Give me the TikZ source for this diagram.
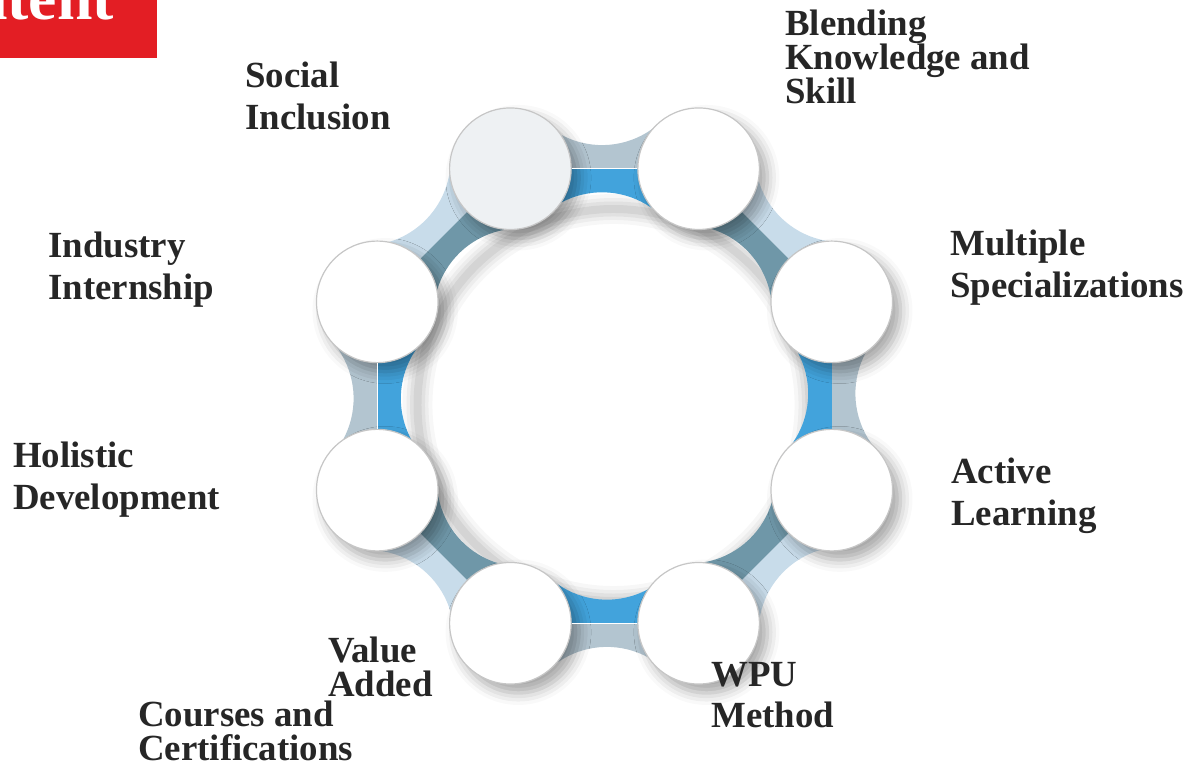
\documentclass[tikz,border=0pt]{standalone}
\usepackage{fontspec}
\setmainfont{Liberation Serif}
\usepackage{xcolor}
\usepackage{tikz}
\usetikzlibrary{shadows.blur}

\definecolor{wpured}{HTML}{E31E24}
\definecolor{bandgray}{HTML}{B3C5D0}
\definecolor{bandblue}{HTML}{42A3DC}
\definecolor{bandlight}{HTML}{C8DCEA}
\definecolor{bandsteel}{HTML}{6F97A8}
\definecolor{hubgray}{HTML}{EEF1F3}

\tikzset{
  hub/.style={circle, draw=gray!45, line width=1.2, fill=white, minimum size=122, inner sep=0,
    blur shadow={shadow xshift=8, shadow yshift=-9, shadow blur radius=12, shadow opacity=35}},
  lbl/.style={anchor=north west, align=left, inner sep=0, text=black!85,
    font=\fontsize{37}{41.5}\selectfont\bfseries},
  lbltight/.style={lbl, font=\fontsize{37}{34}\selectfont\bfseries},
  sepline/.style={white, line width=1.3},
}

\begin{document}
\begin{tikzpicture}[x=1bp, y=1bp]
\useasboundingbox (0,0) rectangle (1188,769);
\clip (0,0) rectangle (1188,769);

% title box
\fill[wpured] (0,711) rectangle (157,769);
\node[anchor=base east, inner sep=0, text=white, font=\fontsize{64}{64}\selectfont\bfseries] (title) at (114,749) {Content};

% ring
\begin{scope}[shift={(604.5,373)}]
% soft shadow inside the hole
\foreach \w/\o in {30/0.03, 22/0.04, 15/0.05, 8/0.06}
  \draw[black, opacity=\o, line width=\w] (9,-9) circle (196);

% right
\begin{scope}[rotate=0, shift={(227.3,0)}]
  \fill[bandgray] (0,-95) -- (50,-95) -- (50,-59.6) arc[start angle=-133.87, end angle=-226.13, radius=86] -- (50,95) -- (0,95) -- cycle;
  \fill[bandblue] (0,-95) -- (-50,-95) -- (-50,-59.6) arc[start angle=-46.13, end angle=46.13, radius=86] -- (-50,95) -- (0,95) -- cycle;
\end{scope}
% upper right
\begin{scope}[rotate=45, shift={(227.3,0)}]
  \fill[bandlight] (0,-95) -- (50,-95) -- (50,-59.6) arc[start angle=-133.87, end angle=-226.13, radius=86] -- (50,95) -- (0,95) -- cycle;
  \fill[bandsteel] (0,-95) -- (-50,-95) -- (-50,-59.6) arc[start angle=-46.13, end angle=46.13, radius=86] -- (-50,95) -- (0,95) -- cycle;
\end{scope}
% top
\begin{scope}[rotate=90, shift={(227.3,0)}]
  \fill[bandgray] (0,-95) -- (50,-95) -- (50,-59.6) arc[start angle=-133.87, end angle=-226.13, radius=86] -- (50,95) -- (0,95) -- cycle;
  \fill[bandblue] (0,-95) -- (-50,-95) -- (-50,-59.6) arc[start angle=-46.13, end angle=46.13, radius=86] -- (-50,95) -- (0,95) -- cycle;
\end{scope}
% upper left
\begin{scope}[rotate=135, shift={(227.3,0)}]
  \fill[bandlight] (0,-95) -- (50,-95) -- (50,-59.6) arc[start angle=-133.87, end angle=-226.13, radius=86] -- (50,95) -- (0,95) -- cycle;
  \fill[bandsteel] (0,-95) -- (-50,-95) -- (-50,-59.6) arc[start angle=-46.13, end angle=46.13, radius=86] -- (-50,95) -- (0,95) -- cycle;
\end{scope}
% left
\begin{scope}[rotate=180, shift={(227.3,0)}]
  \fill[bandgray] (0,-95) -- (50,-95) -- (50,-59.6) arc[start angle=-133.87, end angle=-226.13, radius=86] -- (50,95) -- (0,95) -- cycle;
  \fill[bandblue] (0,-95) -- (-50,-95) -- (-50,-59.6) arc[start angle=-46.13, end angle=46.13, radius=86] -- (-50,95) -- (0,95) -- cycle;
\end{scope}
% lower left
\begin{scope}[rotate=225, shift={(227.3,0)}]
  \fill[bandlight] (0,-95) -- (50,-95) -- (50,-59.6) arc[start angle=-133.87, end angle=-226.13, radius=86] -- (50,95) -- (0,95) -- cycle;
  \fill[bandsteel] (0,-95) -- (-50,-95) -- (-50,-59.6) arc[start angle=-46.13, end angle=46.13, radius=86] -- (-50,95) -- (0,95) -- cycle;
\end{scope}
% bottom
\begin{scope}[rotate=270, shift={(227.3,0)}]
  \fill[bandgray] (0,-95) -- (50,-95) -- (50,-59.6) arc[start angle=-133.87, end angle=-226.13, radius=86] -- (50,95) -- (0,95) -- cycle;
  \fill[bandblue] (0,-95) -- (-50,-95) -- (-50,-59.6) arc[start angle=-46.13, end angle=46.13, radius=86] -- (-50,95) -- (0,95) -- cycle;
\end{scope}
% lower right
\begin{scope}[rotate=315, shift={(227.3,0)}]
  \fill[bandlight] (0,-95) -- (50,-95) -- (50,-59.6) arc[start angle=-133.87, end angle=-226.13, radius=86] -- (50,95) -- (0,95) -- cycle;
  \fill[bandsteel] (0,-95) -- (-50,-95) -- (-50,-59.6) arc[start angle=-46.13, end angle=46.13, radius=86] -- (-50,95) -- (0,95) -- cycle;
\end{scope}

% hubs
\node[hub] (spec) at (22.5:246) {};
\node[hub] (blend) at (67.5:246) {};
\node[hub, fill=hubgray] (social) at (112.5:246) {};
\node[hub] (intern) at (157.5:246) {};
\node[hub] (holist) at (202.5:246) {};
\node[hub] (value) at (247.5:246) {};
\node[hub] (wpu) at (292.5:246) {};
\node[hub] (active) at (337.5:246) {};
\end{scope}

% seams between the two halves of a band
\draw[sepline] (social) -- (blend);
\draw[sepline] (intern) -- (holist);
\draw[sepline] (value) -- (wpu);

% labels
\node[lbl] (lsocial) at (245,707) {Social\\Inclusion};
\node[lbltight] (lblend) at (785,759) {Blending\\Knowledge and\\Skill};
\node[lbl] (lintern) at (48,537) {Industry\\Internship};
\node[lbl] (lspec) at (950,539) {Multiple\\Specializations};
\node[lbl] (lholist) at (13,327) {Holistic\\Development};
\node[lbl] (lactive) at (951,311) {Active\\Learning};
\node[lbltight] (lvalue) at (328,132) {Value\\Added};
\node[lbltight] (lcourse) at (138,68) {Courses and\\Certifications};
\node[lbl] (lwpu) at (711,107) {WPU\\Method};
\end{tikzpicture}
\end{document}
